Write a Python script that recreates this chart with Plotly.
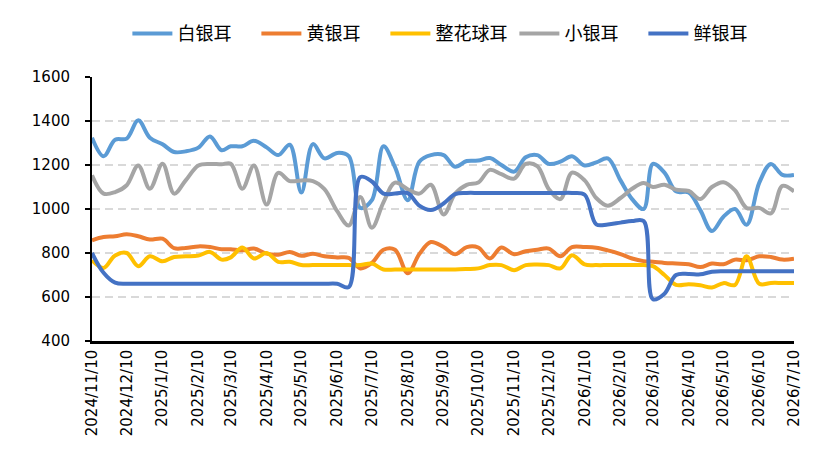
import datetime as dt
import plotly.graph_objects as go

# ---- data ----
months = [(2024, 11), (2024, 12)] + [(2025, m) for m in range(1, 13)] + [(2026, m) for m in range(1, 7)]
dates = []
for (yy, mm) in months:
    base = dt.date(yy, mm, 1)
    for off in (9, 19, 29):
        dates.append(base + dt.timedelta(days=off))
dates.append(dt.date(2026, 7, 10))

tick_dates = [dt.date(yy, mm, 10) for (yy, mm) in months] + [dt.date(2026, 7, 10)]
tick_labels = [f"{d.year}/{d.month}/{d.day}" for d in tick_dates]

bai = [1324, 1240, 1315, 1320, 1403, 1324, 1294, 1259, 1262, 1279,
       1330, 1267, 1285, 1285, 1310, 1280, 1245, 1292, 1075, 1295,
       1230, 1255, 1240, 1005, 1040, 1285, 1190, 1040, 1215, 1245,
       1245, 1192, 1218, 1220, 1232, 1200, 1170, 1235, 1245, 1205,
       1215, 1240, 1198, 1212, 1230, 1130, 1045, 1000, 1205, 1165,
       1080, 1075, 995, 900, 965, 1000, 928, 1120, 1205, 1155, 1155]

huang = [858, 873, 876, 885, 876, 861, 865, 822, 823, 830,
         827, 817, 817, 812, 820, 797, 792, 805, 787, 797,
         785, 780, 778, 730, 755, 815, 815, 708, 795, 850,
         827, 794, 827, 825, 775, 825, 794, 808, 815, 820,
         785, 827, 827, 824, 812, 795, 775, 763, 760, 755,
         752, 749, 736, 752, 749, 770, 767, 785, 782, 770, 774]

zhenghua = [767, 732, 789, 800, 740, 785, 762, 782, 785, 788,
            805, 770, 780, 825, 775, 800, 760, 760, 745, 745,
            745, 745, 745, 745, 752, 725, 725, 725, 725, 725,
            725, 725, 727, 730, 745, 745, 722, 745, 748, 745,
            730, 790, 748, 745, 745, 745, 745, 745, 740, 700,
            655, 658, 653, 643, 663, 655, 785, 660, 664, 664, 664]

xiao = [1153, 1070, 1077, 1108, 1198, 1092, 1206, 1070, 1130, 1198,
        1205, 1203, 1206, 1092, 1198, 1020, 1164, 1127, 1130, 1127,
        1090, 990, 925, 1055, 915, 1030, 1120, 1090, 1070, 1110,
        975, 1070, 1110, 1120, 1178, 1158, 1138, 1205, 1195, 1090,
        1045, 1165, 1130, 1050, 1015, 1050, 1092, 1118, 1100, 1110,
        1088, 1082, 1045, 1100, 1122, 1085, 1005, 1005, 980, 1105, 1080]

xian = [800, 710, 665, 660, 660, 660, 660, 660, 660, 660,
        660, 660, 660, 660, 660, 660, 660, 660, 660, 660,
        660, 660, 645, 1145, 1125, 1070, 1070, 1072, 1015, 995,
        1025, 1068, 1073, 1073, 1073, 1073, 1073, 1073, 1073, 1073,
        1073, 1073, 1065, 930, 930, 938, 945, 945, 590, 615,
        700, 705, 703, 715, 717, 717, 717, 717, 717, 717, 717]

series = [
    ("白银耳", bai, "#5B9BD5"),
    ("黄银耳", huang, "#ED7D31"),
    ("整花球耳", zhenghua, "#FFC000"),
    ("小银耳", xiao, "#A5A5A5"),
    ("鲜银耳", xian, "#4472C4"),
]

fig = go.Figure()
for name, vals, color in series:
    fig.add_trace(go.Scatter(
        x=dates, y=vals, name=name, mode="lines",
        line=dict(color=color, width=4, shape="spline", smoothing=1.0),
    ))

fig.update_layout(
    width=815, height=450,
    margin=dict(l=92, r=13, t=77, b=109),
    paper_bgcolor="white", plot_bgcolor="white",
    font=dict(family="DejaVu Sans", size=15, color="#000000"),
    showlegend=True,
    legend=dict(
        orientation="h", xref="container", yref="container",
        x=0.552, xanchor="center", y=0.925, yanchor="middle",
        font=dict(family="Noto Sans CJK SC", size=18, color="#000000"),
        itemwidth=40, entrywidth=74, traceorder="normal",
    ),
    xaxis=dict(
        type="date",
        range=[dates[0], dates[-1]],
        tickvals=tick_dates, ticktext=tick_labels,
        tickangle=-90,
        showgrid=False,
        showline=True, linecolor="#000000", linewidth=2.5,
        ticks="", zeroline=False,
        tickfont=dict(family="DejaVu Sans", size=15, color="#000000"),
    ),
    yaxis=dict(
        range=[400, 1600],
        tickvals=[400, 600, 800, 1000, 1200, 1400, 1600],
        showgrid=True, gridcolor="#D9D9D9", gridwidth=1.5, griddash="8px,5px",
        showline=True, linecolor="#000000", linewidth=2,
        ticks="outside", ticklen=5, tickcolor="#000000", tickwidth=1.5,
        zeroline=False,
        ticklabelstandoff=12,
        tickfont=dict(family="DejaVu Sans", size=15, color="#000000"),
    ),
)

fig.write_html("out.html")
